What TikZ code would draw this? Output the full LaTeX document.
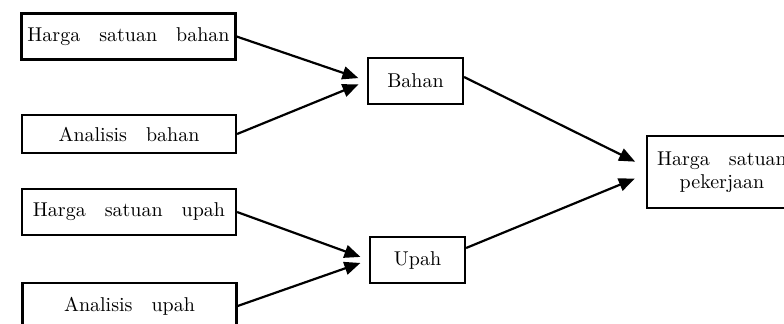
\documentclass[tikz,border=0pt]{standalone}
\usetikzlibrary{arrows.meta}
\begin{document}
\begin{tikzpicture}[
    x=0.5pt, y=-0.5pt,
    box/.style={draw, line width=1.1pt, inner sep=2pt, align=center,
      font={\fontsize{10}{11.5}\selectfont\spaceskip=0.95em\relax}},
    input box/.style={box, minimum width=107pt, minimum height=23pt},
    mid box/.style={box, minimum width=47.5pt, minimum height=23pt},
    result box/.style={box, minimum width=75pt, minimum height=36pt},
    link/.style={-{Triangle[length=8pt,width=6.5pt]}, line width=1.1pt}
  ]
  \clip (0,0) rectangle (784,323);

  % Inputs
  \node[input box] (HSB) at (128.5,36.5) {Harga satuan bahan};
  \node[input box, minimum height=19pt] (AB) at (129,134) {Analisis bahan};
  \node[input box] (HSU) at (129,212) {Harga satuan upah};
  \node[input box] (AU) at (129.5,306) {Analisis upah};

  % Middle
  \node[mid box] (B) at (415.5,81) {Bahan};
  \node[mid box] (U) at (417.5,260) {Upah};

  % Result
  \node[result box] (HSP) at (722,172) {Harga satuan\\pekerjaan};

  % Connections
  \draw[link, shorten >=4.5pt] (HSB.east) -- (B.west);
  \draw[link, shorten >=4.5pt] (AB.east) -- (B.west);
  \draw[link, shorten >=4.5pt] (HSU.east) -- (U.west);
  \draw[link, shorten >=4.5pt] (AU.east) -- (U.west);

  \draw[link, shorten >=6pt] ([yshift=2pt]B.east) -- ([yshift=2.5pt]HSP.west);
  \draw[link, shorten >=6pt] ([yshift=6pt]U.east) -- ([yshift=-1pt]HSP.west);

\end{tikzpicture}
\end{document}
